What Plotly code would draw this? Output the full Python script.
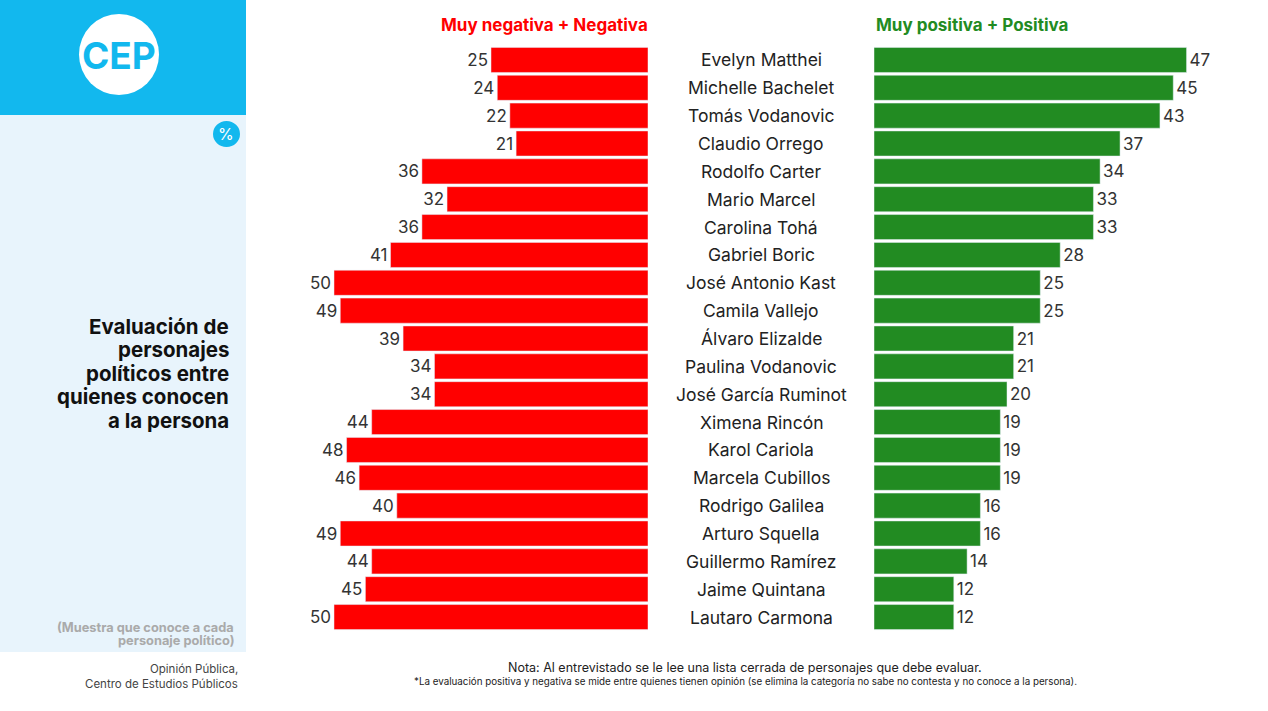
import plotly.graph_objects as go

W, H = 1268, 711

names = ['Evelyn Matthei', 'Michelle Bachelet', 'Tomás Vodanovic', 'Claudio Orrego',
         'Rodolfo Carter', 'Mario Marcel', 'Carolina Tohá', 'Gabriel Boric',
         'José Antonio Kast', 'Camila Vallejo', 'Álvaro Elizalde', 'Paulina Vodanovic',
         'José García Ruminot', 'Ximena Rincón', 'Karol Cariola', 'Marcela Cubillos',
         'Rodrigo Galilea', 'Arturo Squella', 'Guillermo Ramírez', 'Jaime Quintana',
         'Lautaro Carmona']
negativa = [25, 24, 22, 21, 36, 32, 36, 41, 50, 49, 39, 34, 34, 44, 48, 46, 40, 49, 44, 45, 50]
positiva = [47, 45, 43, 37, 34, 33, 33, 28, 25, 25, 21, 21, 20, 19, 19, 19, 16, 16, 14, 12, 12]

title_lines = ['Evaluación de', 'personajes', 'políticos entre', 'quienes conocen', 'a la persona']
muestra_lines = ['(Muestra que conoce a cada', 'personaje político)']
fuente_lines = ['Opinión Pública,', 'Centro de Estudios Públicos']

RED = '#FF0000'
GREEN = '#228B22'
BLUE = '#12B8EE'
PANEL = '#E8F4FC'
FONT = 'Inter'


def px(x):
    return x / W


def py(y):
    return 1 - y / H


def note(x, y, text, size, color, anchor='center', bold=False, family=FONT):
    if bold:
        text = '<b>' + text + '</b>'
    return dict(x=px(x), y=py(y), xref='paper', yref='paper', showarrow=False,
                xanchor=anchor, yanchor='middle', text=text,
                font=dict(size=size, color=color, family=family))


fig = go.Figure()

fig.add_trace(go.Bar(
    y=names, x=negativa, orientation='h', marker_color=RED,
    text=negativa, textposition='outside', cliponaxis=False,
    textfont=dict(size=17, color='#333333', family=FONT),
    xaxis='x', yaxis='y', showlegend=False, hoverinfo='x+y'))

fig.add_trace(go.Bar(
    y=names, x=positiva, orientation='h', marker_color=GREEN,
    text=positiva, textposition='outside', cliponaxis=False,
    textfont=dict(size=17, color='#333333', family=FONT),
    xaxis='x2', yaxis='y', showlegend=False, hoverinfo='x+y'))

# person names in the middle column
annotations = []
for n in names:
    annotations.append(dict(
        x=px(761), xref='paper', y=n, yref='y', text=n, showarrow=False,
        xanchor='center', yanchor='middle',
        font=dict(size=17.5, color='#222222', family=FONT)))

annotations += [
    note(544, 25, 'Muy negativa + Negativa', 17, RED, bold=True),
    note(972, 25, 'Muy positiva + Positiva', 17, GREEN, bold=True),
    note(119, 55, 'CEP', 37, BLUE, bold=True),
    note(226, 134, '%', 16, 'white'),
    note(745, 667, 'Nota: Al entrevistado se le lee una lista cerrada de personajes que debe evaluar.',
         12.5, '#222222'),
    note(745, 681, '*La evaluación positiva y negativa se mide entre quienes tienen opinión '
         '(se elimina la categoría no sabe no contesta y no conoce a la persona).', 9.8, '#222222'),
]
# left panel title, one annotation per line to keep the tight leading
for i, t in enumerate(title_lines):
    annotations.append(note(231, 326 + 23.5 * i, t, 20.5, '#111111', anchor='right', bold=True))
for i, t in enumerate(muestra_lines):
    annotations.append(note(236, 627 + 13.5 * i, t, 12.8, '#AAAAAA', anchor='right', bold=True))
for i, t in enumerate(fuente_lines):
    annotations.append(note(240, 669 + 15 * i, t, 11.5, '#444444', anchor='right'))

shapes = [
    dict(type='rect', xref='paper', yref='paper', x0=0, x1=px(246), y0=py(115), y1=1,
         fillcolor=BLUE, line_width=0, layer='below'),
    dict(type='rect', xref='paper', yref='paper', x0=0, x1=px(246), y0=py(652), y1=py(115),
         fillcolor=PANEL, line_width=0, layer='below'),
    dict(type='circle', xref='paper', yref='paper', x0=px(79), x1=px(159), y0=py(95), y1=py(14),
         fillcolor='white', line_width=0, layer='below'),
    dict(type='circle', xref='paper', yref='paper', x0=px(213), x1=px(240), y0=py(147), y1=py(121),
         fillcolor=BLUE, line_width=0, layer='below'),
]

fig.update_layout(
    width=W, height=H,
    margin=dict(l=0, r=0, t=0, b=0),
    paper_bgcolor='white', plot_bgcolor='rgba(0,0,0,0)',
    bargap=0.1,
    xaxis=dict(domain=[px(300), px(648)], range=[348 / 6.28, 0], visible=False, fixedrange=True),
    xaxis2=dict(domain=[px(874), px(1230)], range=[0, 356 / 6.65], visible=False, fixedrange=True),
    yaxis=dict(domain=[py(631), py(46)], autorange='reversed', visible=False,
               categoryorder='array', categoryarray=names),
    annotations=annotations,
    shapes=shapes,
)

# page body has a default 8px margin; drop it so the figure fills the window
fig.write_html('out.html', config={'displayModeBar': False},
               post_script="document.body.style.margin='0';")
